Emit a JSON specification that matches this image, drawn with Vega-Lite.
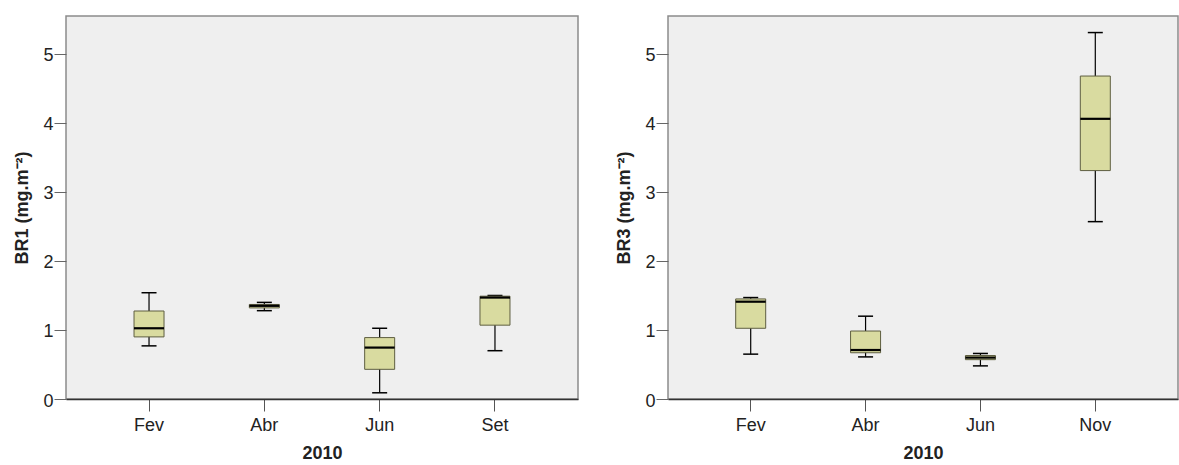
{
  "$schema": "https://vega.github.io/schema/vega-lite/v6.json",
  "background": "white",
  "padding": {"left": 13, "top": 15, "right": 0, "bottom": 0},
  "spacing": 36,
  "datasets": {
    "br1": [
      {"month": "Fev", "min": 0.77, "q1": 0.90, "median": 1.025, "q3": 1.275, "max": 1.54},
      {"month": "Abr", "min": 1.28, "q1": 1.32, "median": 1.35, "q3": 1.37, "max": 1.40},
      {"month": "Jun", "min": 0.09, "q1": 0.43, "median": 0.745, "q3": 0.89, "max": 1.025},
      {"month": "Set", "min": 0.70, "q1": 1.07, "median": 1.47, "q3": 1.49, "max": 1.50}
    ],
    "br3": [
      {"month": "Fev", "min": 0.65, "q1": 1.025, "median": 1.41, "q3": 1.45, "max": 1.47},
      {"month": "Abr", "min": 0.61, "q1": 0.67, "median": 0.71, "q3": 0.985, "max": 1.20},
      {"month": "Jun", "min": 0.48, "q1": 0.57, "median": 0.60, "q3": 0.63, "max": 0.66},
      {"month": "Nov", "min": 2.57, "q1": 3.31, "median": 4.06, "q3": 4.68, "max": 5.31}
    ]
  },
  "config": {
    "font": "Liberation Sans",
    "view": {"stroke": "#8c8c8c", "strokeWidth": 1.5, "fill": "#efefef"},
    "tick": {"opacity": 1},
    "bar": {"opacity": 1},
    "rule": {"opacity": 1},
    "axisX": {
      "domainColor": "#333333", "domainWidth": 1.5,
      "tickColor": "#555555", "tickSize": 12, "tickWidth": 1,
      "labelFontSize": 18, "labelColor": "#222222", "labelPadding": 5, "labelAngle": 0,
      "titleFontSize": 18, "titleFontWeight": "bold", "titleColor": "#222222", "titlePadding": 10,
      "grid": false
    },
    "axisY": {
      "domain": false,
      "tickColor": "#666666", "tickSize": 12, "tickWidth": 1,
      "labelFontSize": 18, "labelColor": "#222222", "labelPadding": 1, "labelOffset": 2,
      "titleFontSize": 18, "titleFontWeight": "bold", "titleColor": "#222222", "titlePadding": 11,
      "grid": false, "format": "d"
    }
  },
  "hconcat": [
    {
      "width": 512,
      "height": 383,
      "data": {"name": "br1"},
      "encoding": {
        "x": {
          "field": "month", "type": "nominal",
          "sort": ["Fev", "Abr", "Jun", "Set"],
          "scale": {"paddingInner": 0, "paddingOuter": 0.22},
          "axis": {"title": "2010"}
        }
      },
      "layer": [
        {
          "mark": {"type": "rule", "color": "black", "strokeWidth": 1.2},
          "encoding": {
            "y": {
              "field": "min", "type": "quantitative",
              "scale": {"domain": [0, 5.55], "nice": false, "zero": true},
              "axis": {"title": "BR1 (mg.m⁻²)", "values": [0, 1, 2, 3, 4, 5]}
            },
            "y2": {"field": "max"}
          }
        },
        {
          "mark": {"type": "tick", "color": "black", "size": 15, "thickness": 1.5},
          "encoding": {"y": {"field": "min", "type": "quantitative"}}
        },
        {
          "mark": {"type": "tick", "color": "black", "size": 15, "thickness": 1.5},
          "encoding": {"y": {"field": "max", "type": "quantitative"}}
        },
        {
          "mark": {"type": "bar", "size": 30, "fill": "#d9dba0", "stroke": "#5e5e40", "strokeWidth": 1},
          "encoding": {
            "y": {"field": "q1", "type": "quantitative"},
            "y2": {"field": "q3"}
          }
        },
        {
          "mark": {"type": "tick", "color": "black", "size": 30, "thickness": 2.2},
          "encoding": {"y": {"field": "median", "type": "quantitative"}}
        }
      ]
    },
    {
      "width": 510,
      "height": 383,
      "data": {"name": "br3"},
      "encoding": {
        "x": {
          "field": "month", "type": "nominal",
          "sort": ["Fev", "Abr", "Jun", "Nov"],
          "scale": {"paddingInner": 0, "paddingOuter": 0.22},
          "axis": {"title": "2010"}
        }
      },
      "layer": [
        {
          "mark": {"type": "rule", "color": "black", "strokeWidth": 1.2},
          "encoding": {
            "y": {
              "field": "min", "type": "quantitative",
              "scale": {"domain": [0, 5.55], "nice": false, "zero": true},
              "axis": {"title": "BR3 (mg.m⁻²)", "values": [0, 1, 2, 3, 4, 5]}
            },
            "y2": {"field": "max"}
          }
        },
        {
          "mark": {"type": "tick", "color": "black", "size": 15, "thickness": 1.5},
          "encoding": {"y": {"field": "min", "type": "quantitative"}}
        },
        {
          "mark": {"type": "tick", "color": "black", "size": 15, "thickness": 1.5},
          "encoding": {"y": {"field": "max", "type": "quantitative"}}
        },
        {
          "mark": {"type": "bar", "size": 30, "fill": "#d9dba0", "stroke": "#5e5e40", "strokeWidth": 1},
          "encoding": {
            "y": {"field": "q1", "type": "quantitative"},
            "y2": {"field": "q3"}
          }
        },
        {
          "mark": {"type": "tick", "color": "black", "size": 30, "thickness": 2.2},
          "encoding": {"y": {"field": "median", "type": "quantitative"}}
        }
      ]
    }
  ]
}
